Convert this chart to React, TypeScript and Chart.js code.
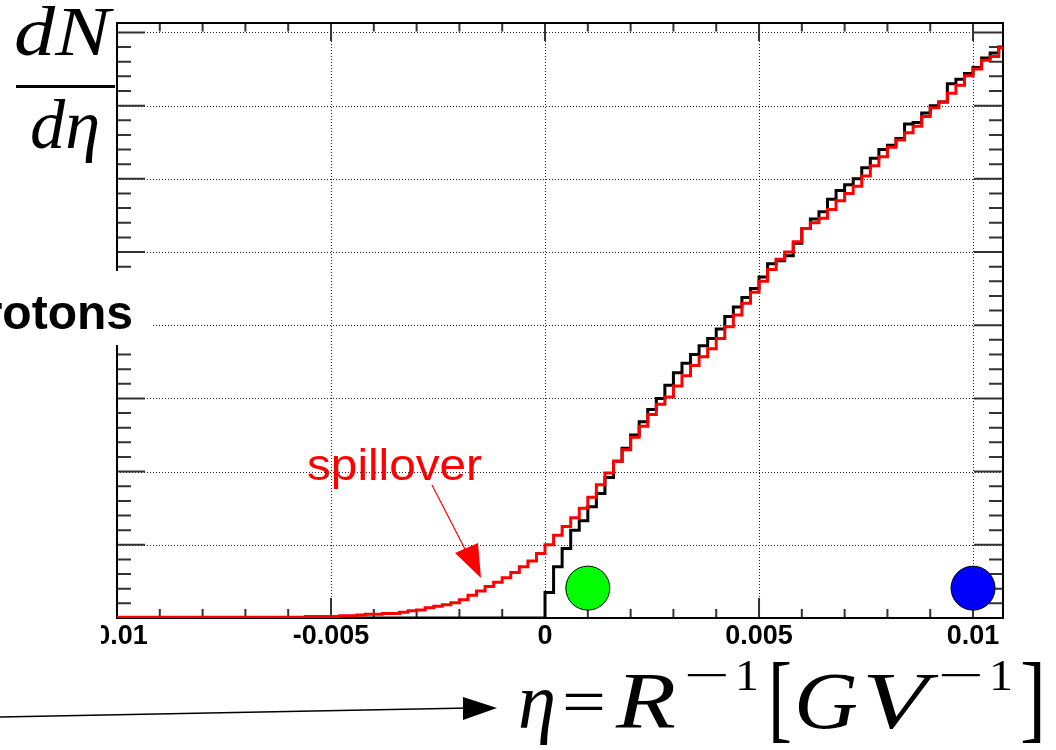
import React, { useEffect, useRef } from 'react';
import { Chart, registerables } from 'chart.js';

Chart.register(...registerables);

// ---- axis ranges & ticks ----
const X_MIN = -0.01;
const X_MAX = 0.0107;
const Y_MIN = 0;
const Y_MAX = 8.129;
const X_TICK_VALUES = [-0.01, -0.005, 0, 0.005, 0.01];
const X_TICK_LABELS = ['-0.01', '-0.005', '0', '0.005', '0.01'];
const X_MINOR_STEP = 0.001;
const Y_GRID_VALUES = [1, 2, 3, 4, 5, 6, 7, 8];
const Y_MINOR_STEP = 0.2;

// ---- histogram binning ----
const BIN_START = -0.01;
const BIN_WIDTH = 0.0002;

// red histogram (with spillover)
const RED_COUNTS = [
  0.01, 0.01, 0.01, 0.01, 0.01, 0.01, 0.01, 0.01, 0.01, 0.01, 0.01,
  0.01, 0.01, 0.01, 0.01, 0.01, 0.01, 0.01, 0.01, 0.01, 0.01, 0.01,
  0.02, 0.02, 0.02, 0.02,
  0.03, 0.03,
  0.04,
  0.05, 0.05,
  0.06, 0.06,
  0.08, 0.10, 0.11, 0.14, 0.16, 0.18, 0.21, 0.25, 0.31, 0.37,
  0.43, 0.49, 0.55, 0.62, 0.70, 0.78, 0.88, 1.00, 1.13, 1.25,
  1.37, 1.50, 1.65, 1.82, 1.98, 2.14, 2.30, 2.47, 2.62, 2.78,
  2.92, 3.02, 3.17, 3.31, 3.45, 3.57, 3.68, 3.82, 3.98, 4.14,
  4.30, 4.45, 4.60, 4.76, 4.90, 5.00, 5.14, 5.32, 5.40, 5.46,
  5.58, 5.70, 5.80, 5.90, 6.04, 6.18, 6.30, 6.43, 6.53, 6.63,
  6.72, 6.85, 6.97, 7.05, 7.17, 7.28, 7.41, 7.50, 7.62, 7.67,
  7.79,
];

// black histogram (true distribution)
const BLACK_COUNTS = [
  0, 0, 0, 0, 0, 0, 0, 0, 0, 0,
  0, 0, 0, 0, 0, 0, 0, 0, 0, 0,
  0, 0, 0, 0, 0, 0, 0, 0, 0, 0,
  0, 0, 0, 0, 0, 0, 0, 0, 0, 0,
  0, 0, 0, 0, 0, 0, 0, 0, 0, 0,
  0.35, 0.70, 0.95, 1.20, 1.33, 1.52, 1.70, 1.92, 2.14, 2.32,
  2.50, 2.68, 2.85, 3.00, 3.18, 3.35, 3.48, 3.60, 3.72, 3.82,
  3.95, 4.12, 4.25, 4.38, 4.50, 4.66, 4.84, 4.88, 4.95, 5.12,
  5.32, 5.45, 5.55, 5.72, 5.84, 5.92, 6.00, 6.15, 6.28, 6.40,
  6.46, 6.55, 6.75, 6.77, 6.90, 7.00, 7.05, 7.30, 7.36, 7.44,
  7.52, 7.65, 7.72, 7.80,
];

// markers
const MARKER_X = [0.001, 0.01];
const MARKER_Y = [0.408, 0.408];
const MARKER_COLORS = ['#00ff00', '#0000ff'];

function toSteps(counts: number[]) {
  const pts = counts.map((v, i) => ({ x: BIN_START + i * BIN_WIDTH, y: v }));
  pts.push({ x: BIN_START + counts.length * BIN_WIDTH, y: counts[counts.length - 1] });
  return pts;
}

// draw a text fitted to a target width (optional vertical scale)
function glyph(
  ctx: CanvasRenderingContext2D,
  text: string,
  font: string,
  x0: number,
  y: number,
  targetW: number,
  sy = 1
) {
  ctx.font = font;
  const w = ctx.measureText(text).width;
  const s = targetW / w;
  ctx.save();
  ctx.textAlign = 'left';
  ctx.textBaseline = 'alphabetic';
  ctx.translate(x0, y);
  ctx.scale(s, sy);
  ctx.fillText(text, 0, 0);
  ctx.restore();
}

const decorPlugin = {
  id: 'decor',
  beforeDatasetsDraw(chart: any) {
    const { ctx, chartArea: a } = chart;
    const x = chart.scales.x;
    const y = chart.scales.y;
    ctx.save();
    // dotted grid
    ctx.strokeStyle = '#222';
    ctx.lineWidth = 1;
    ctx.setLineDash([1, 2]);
    for (const v of X_TICK_VALUES) {
      const px = Math.round(x.getPixelForValue(v)) + 0.5;
      if (px <= a.left + 3 || px >= a.right - 3) continue;
      ctx.beginPath();
      ctx.moveTo(px, a.top);
      ctx.lineTo(px, a.bottom);
      ctx.stroke();
    }
    for (const v of Y_GRID_VALUES) {
      const py = Math.round(y.getPixelForValue(v)) + 0.5;
      ctx.beginPath();
      ctx.moveTo(a.left, py);
      ctx.lineTo(a.right, py);
      ctx.stroke();
    }
    ctx.setLineDash([]);
    // tick marks
    ctx.strokeStyle = '#333';
    ctx.lineWidth = 2;
    const nX = Math.floor((X_MAX - X_MIN) / X_MINOR_STEP + 1e-6);
    for (let i = 0; i <= nX; i++) {
      const v = X_MIN + i * X_MINOR_STEP;
      const px = x.getPixelForValue(v);
      const major = i % 5 === 0;
      ctx.beginPath();
      ctx.moveTo(px, a.bottom);
      ctx.lineTo(px, a.bottom - (major ? 20 : 9));
      ctx.moveTo(px, a.top);
      ctx.lineTo(px, a.top + (major ? 18 : 8.5));
      ctx.stroke();
    }
    const nY = Math.floor((Y_MAX - Y_MIN) / Y_MINOR_STEP + 1e-6);
    for (let i = 0; i <= nY; i++) {
      const v = Y_MIN + i * Y_MINOR_STEP;
      const py = y.getPixelForValue(v);
      const major = i % 5 === 0;
      ctx.beginPath();
      ctx.moveTo(a.left, py);
      ctx.lineTo(a.left + (major ? 28 : 14), py);
      ctx.moveTo(a.right, py);
      ctx.lineTo(a.right - (major ? 29 : 14), py);
      ctx.stroke();
    }
    // frame
    ctx.strokeStyle = '#000';
    ctx.lineWidth = 2;
    ctx.strokeRect(a.left, a.top, a.right - a.left, a.bottom - a.top);
    ctx.restore();
  },
  afterDraw(chart: any) {
    const { ctx } = chart;
    ctx.save();
    // white boxes
    ctx.fillStyle = '#fff';
    ctx.fillRect(0, 271, 152, 74);
    ctx.fillRect(0, 619, 101, 35);

    // "Protons" label (partly off-canvas)
    ctx.fillStyle = '#000';
    ctx.textBaseline = 'alphabetic';
    ctx.font = 'bold 48px "Liberation Sans", Arial, sans-serif';
    ctx.textAlign = 'right';
    ctx.fillText('Protons', 133, 329);

    // dN / d eta
    const SERIF = '"Liberation Serif", serif';
    glyph(ctx, 'dN', `italic 70px ${SERIF}`, 14, 55, 96);
    ctx.fillRect(16, 85, 99, 3);
    glyph(ctx, 'dη', `italic 70px ${SERIF}`, 30, 148, 70);

    // axis title  η = R^{-1} [GV^{-1}]
    const IT = `italic 80px ${SERIF}`;
    const RM = `66px ${SERIF}`;
    const SUP = `44px ${SERIF}`;
    const BR = `70px ${SERIF}`;
    const base = 728;
    const supBase = 690;
    glyph(ctx, 'η', IT, 518, base, 38);
    glyph(ctx, '=', RM, 562, base - 4, 44);
    glyph(ctx, 'R', IT, 616, base, 60);
    glyph(ctx, '−', SUP, 684, supBase, 46);
    glyph(ctx, '1', SUP, 735, supBase, 24);
    glyph(ctx, '[', BR, 768, 730, 24, 1.4);
    glyph(ctx, 'G', IT, 794, base, 64);
    glyph(ctx, 'V', IT, 862, base, 66);
    glyph(ctx, '−', SUP, 938, supBase, 46);
    glyph(ctx, '1', SUP, 989, supBase, 24);
    glyph(ctx, ']', BR, 1020, 730, 26, 1.4);

    // black arrow
    ctx.strokeStyle = '#000';
    ctx.lineWidth = 1.5;
    ctx.beginPath();
    ctx.moveTo(0, 717);
    ctx.lineTo(470, 708);
    ctx.stroke();
    ctx.beginPath();
    ctx.moveTo(463, 697);
    ctx.lineTo(497, 708);
    ctx.lineTo(463, 720);
    ctx.closePath();
    ctx.fill();

    // spillover label & arrow
    ctx.fillStyle = '#ff0000';
    ctx.strokeStyle = '#ff0000';
    glyph(ctx, 'spillover', '44px "Liberation Sans", Arial, sans-serif', 307, 480, 175);
    ctx.lineWidth = 1.2;
    ctx.beginPath();
    ctx.moveTo(432, 485);
    ctx.lineTo(467, 553);
    ctx.stroke();
    ctx.beginPath();
    ctx.moveTo(455, 553);
    ctx.lineTo(478, 543);
    ctx.lineTo(481, 578);
    ctx.closePath();
    ctx.fill();
    ctx.restore();
  },
};

export default function App() {
  const ref = useRef<HTMLCanvasElement | null>(null);
  useEffect(() => {
    document.body.style.margin = '0';
    const canvas = ref.current;
    if (!canvas) return;
    const chart = new Chart(canvas, {
      type: 'scatter',
      data: {
        datasets: [
          {
            label: 'markers',
            data: MARKER_X.map((xv, i) => ({ x: xv, y: MARKER_Y[i] })),
            pointRadius: 22,
            pointHoverRadius: 22,
            pointBackgroundColor: MARKER_COLORS,
            pointBorderColor: '#000',
            pointBorderWidth: 1,
            showLine: false,
            order: 0,
          } as any,
          {
            label: 'spillover',
            data: toSteps(RED_COUNTS),
            showLine: true,
            stepped: true,
            borderColor: '#ff0000',
            borderWidth: 3,
            pointRadius: 0,
            fill: false,
            order: 1,
          } as any,
          {
            label: 'true',
            data: toSteps(BLACK_COUNTS),
            showLine: true,
            stepped: true,
            borderColor: '#000000',
            borderWidth: 3,
            pointRadius: 0,
            fill: false,
            order: 2,
          } as any,
        ],
      },
      options: {
        animation: false,
        responsive: false,
        events: [],
        layout: { padding: { top: 20, right: 53, bottom: 0, left: 0 } },
        plugins: { legend: { display: false }, tooltip: { enabled: false } },
        scales: {
          x: {
            type: 'linear',
            min: X_MIN,
            max: X_MAX,
            grid: { display: false, drawTicks: false },
            border: { display: false },
            afterBuildTicks: (s: any) => {
              s.ticks = X_TICK_VALUES.map((v) => ({ value: v }));
            },
            afterFit: (s: any) => {
              s.height = 132;
            },
            ticks: {
              autoSkip: false,
              maxRotation: 0,
              minRotation: 0,
              padding: 2,
              color: '#000',
              font: { family: '"Liberation Sans", Arial, sans-serif', size: 27, weight: 'bold' },
              callback: (v: any) => {
                const i = X_TICK_VALUES.findIndex((t) => Math.abs(t - Number(v)) < 1e-9);
                return i >= 0 ? X_TICK_LABELS[i] : '';
              },
            },
          },
          y: {
            type: 'linear',
            min: Y_MIN,
            max: Y_MAX,
            grid: { display: false, drawTicks: false },
            border: { display: false },
            ticks: { display: false },
            afterFit: (s: any) => {
              s.width = 117;
            },
          },
        },
      } as any,
      plugins: [decorPlugin],
    });
    return () => chart.destroy();
  }, []);
  return (
    <div style={{ width: 1056, height: 750, background: '#fff' }}>
      <canvas ref={ref} width={1056} height={750} style={{ display: 'block', width: 1056, height: 750 }} />
    </div>
  );
}
